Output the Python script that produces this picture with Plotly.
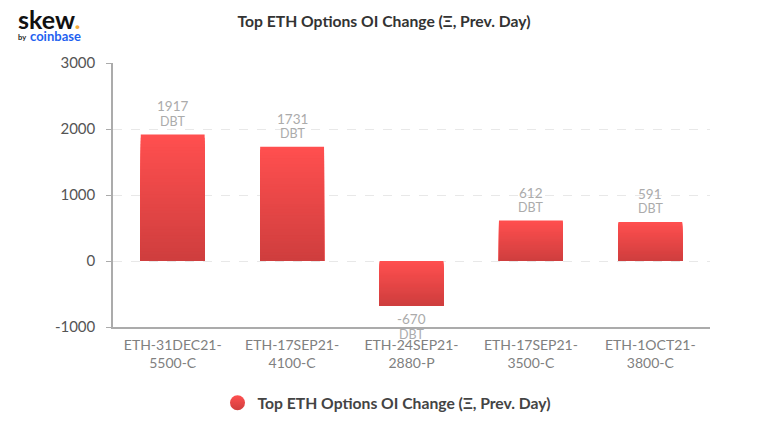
#!/usr/bin/env python3
"""Top ETH options OI change, bars with a top-to-bottom red fade."""

import plotly.graph_objects as go

TITLE = "Top ETH Options OI Change (Ξ, Prev. Day)"

categories = [
    "ETH-31DEC21-5500-C",
    "ETH-17SEP21-4100-C",
    "ETH-24SEP21-2880-P",
    "ETH-17SEP21-3500-C",
    "ETH-1OCT21-3800-C",
]
tick_labels = [
    "ETH-31DEC21-<br>5500-C",
    "ETH-17SEP21-<br>4100-C",
    "ETH-24SEP21-<br>2880-P",
    "ETH-17SEP21-<br>3500-C",
    "ETH-1OCT21-<br>3800-C",
]
values = [1917, 1731, -670, 612, 591]
y_ticks = [-1000, 0, 1000, 2000, 3000]
y_tick_labels = ["-1000", "0", "1000", "2000", "3000"]

FONT = "Lato, 'Open Sans', sans-serif"
WIDTH, HEIGHT = 768, 429
MARGIN = dict(l=113, r=58, t=63, b=102)
TOP_RGB = (255, 79, 79)
BOTTOM_RGB = (207, 62, 62)
N_BANDS = 40


def band_color(k):
    t = k / (N_BANDS - 1)
    r, g, b = [round(a + (c - a) * t) for a, c in zip(TOP_RGB, BOTTOM_RGB)]
    return "rgb(%d,%d,%d)" % (r, g, b)


fig = go.Figure()

# plotly bars have no gradient fill: stack flat bars, each one shorter and
# darker, all ending at the bar's low edge so that no seams show
for k in range(N_BANDS):
    lows = [min(v, 0) for v in values]
    heights = [abs(v) * (1 - k / N_BANDS) for v in values]
    fig.add_trace(
        go.Bar(
            x=categories,
            y=heights,
            base=lows,
            marker=dict(color=band_color(k), line=dict(width=0)),
            showlegend=False,
            hoverinfo="skip",
        )
    )

# legend entry only, the picture has a round swatch
fig.add_trace(
    go.Scatter(
        x=[categories[0]],
        y=[None],
        mode="markers",
        name=TITLE,
        marker=dict(
            size=15,
            color="rgb(255,79,79)",
            gradient=dict(type="vertical", color="rgb(207,62,62)"),
        ),
    )
)

for cat, v in zip(categories, values):
    near, far = (13, 28) if v >= 0 else (-29, -14)
    fig.add_annotation(
        x=cat, y=v, text="DBT", showarrow=False, yshift=near, yanchor="middle",
        font=dict(family=FONT, size=12.5, color="#ababab"),
    )
    fig.add_annotation(
        x=cat, y=v, text=str(v), showarrow=False, yshift=far, yanchor="middle",
        font=dict(family=FONT, size=13.5, color="#ababab"),
    )

plot_w = WIDTH - MARGIN["l"] - MARGIN["r"]
plot_h = HEIGHT - MARGIN["t"] - MARGIN["b"]


def px_x(x):
    return (x - MARGIN["l"]) / plot_w


def px_y(y):
    return 1 - (y - MARGIN["t"]) / plot_h


# logo
fig.add_annotation(
    xref="paper", yref="paper", x=px_x(16), y=px_y(19), text="<b>skew<span style='color:#f5ac37'>.</span></b>",
    showarrow=False, xanchor="left", yanchor="middle",
    font=dict(family=FONT, size=25, color="#111111"),
)
fig.add_annotation(
    xref="paper", yref="paper", x=px_x(16), y=px_y(37), text="<b>by</b>",
    showarrow=False, xanchor="left", yanchor="middle",
    font=dict(family=FONT, size=7.5, color="#222222"),
)
fig.add_annotation(
    xref="paper", yref="paper", x=px_x(28), y=px_y(36), text="<b>coinbase</b>",
    showarrow=False, xanchor="left", yanchor="middle",
    font=dict(family=FONT, size=13, color="#1f62f0"),
)

fig.update_layout(
    width=WIDTH,
    height=HEIGHT,
    margin=MARGIN,
    barmode="overlay",
    bargap=0.465,
    paper_bgcolor="white",
    plot_bgcolor="white",
    font=dict(family=FONT, color="#555555"),
    title=dict(
        text="<b>%s</b>" % TITLE,
        x=0.5,
        xanchor="center",
        y=1 - 22 / HEIGHT,
        yanchor="middle",
        font=dict(family=FONT, size=15.7, color="#333333"),
    ),
    legend=dict(
        orientation="h",
        x=0.5 + 3 / WIDTH,
        xanchor="center",
        xref="container",
        y=1 - 403 / HEIGHT,
        yref="container",
        yanchor="middle",
        font=dict(family=FONT, size=15.7, color="#444444", weight="bold"),
    ),
)
fig.update_xaxes(
    tickvals=categories,
    ticktext=tick_labels,
    tickangle=0,
    showgrid=False,
    showline=True,
    linecolor="#ababab",
    linewidth=1.5,
    ticks="",
    zeroline=False,
    ticklabelstandoff=4,
    tickfont=dict(family=FONT, size=14, color="#808080"),
)
fig.update_yaxes(
    range=[-1000, 3000],
    tickvals=y_ticks,
    ticktext=y_tick_labels,
    showgrid=True,
    gridcolor="#e8e8e8",
    griddash="dash",
    gridwidth=1,
    zeroline=False,
    showline=True,
    linecolor="#ababab",
    linewidth=1.5,
    ticks="outside",
    ticklen=5,
    tickcolor="#ababab",
    ticklabelstandoff=8,
    tickfont=dict(family=FONT, size=15, color="#555555"),
)

# the default page has an 8px body margin, drop it so pixels line up
fig.write_html(
    "out.html",
    config={"displayModeBar": False},
    post_script="document.body.style.margin = '0';",
)
